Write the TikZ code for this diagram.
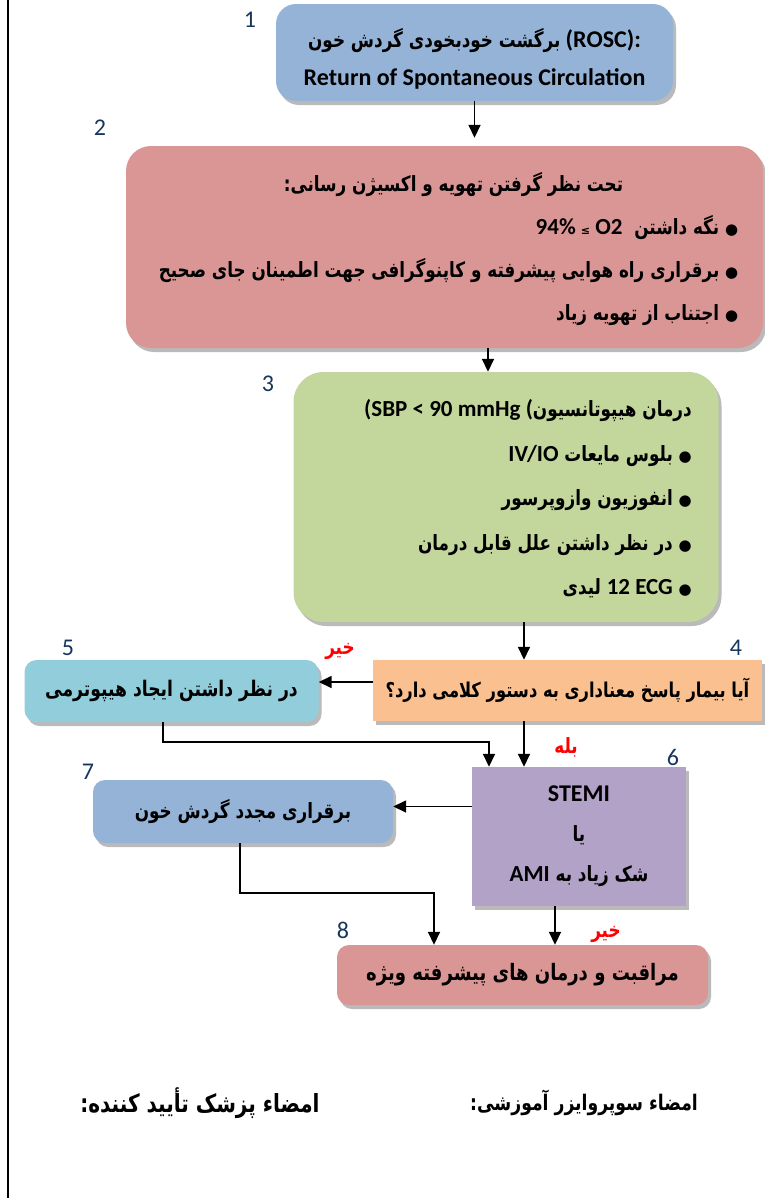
\documentclass[tikz,border=0pt]{standalone}
\usepackage{fontspec}
\setmainfont{Carlito}
\newfontfamily\en{Carlito}
\newfontfamily\sym{DejaVu Sans}
\newfontfamily\fa[Script=Arabic, FakeStretch=0.8]{DejaVu Sans}
\TeXXeTstate=1
\usetikzlibrary{positioning}
\usetikzlibrary{arrows.meta}
\usetikzlibrary{shadows}
\definecolor{blue1}{RGB}{149,179,215}
\definecolor{rose1}{RGB}{217,150,148}
\definecolor{green1}{RGB}{195,214,155}
\definecolor{orange1}{RGB}{250,192,144}
\definecolor{cyan1}{RGB}{146,205,220}
\definecolor{purple1}{RGB}{178,162,199}
\definecolor{num1}{RGB}{23,54,93}
\definecolor{red2}{RGB}{255,0,0}
\newcommand{\fatext}[1]{{\fa\beginR #1\endR}}
\newcommand{\lat}[1]{\beginL{\en\fontsize{23}{23}\selectfont #1}\endL}
\newcommand{\blt}{{\sym\fontsize{15}{15}\selectfont ●}\ }
\tikzset{
box/.style 2 args={
	fill=#1, rounded corners=#2, inner sep=0pt,
	drop shadow={shadow xshift=3pt, shadow yshift=-4pt, fill=black!45, opacity=0.6}
},
num/.style={num1, font=\fontsize{24}{24}\selectfont, inner sep=0pt},
answer/.style={red2, font=\fa\bfseries\fontsize{21}{21}\selectfont, inner sep=0pt},
link/.style={line width=1.6pt, -{Triangle[length=13pt,width=12pt]}},
}

\begin{document}
\begin{tikzpicture}[x=1pt, y=-1pt]
\useasboundingbox (0,0) rectangle (764,1200);
\draw[line width=1.3pt] (8,0) -- (8,1198);

%Place the boxes
\node[box={blue1}{20pt}, minimum width=397pt, minimum height=97pt,
	font=\bfseries\fontsize{24}{38}\selectfont] (rosc) at (474.5,52.5) {%
	\raisebox{-6pt}[\height][\depth]{\begin{tabular}{@{}c@{}}
	\beginL\fatext{\fontsize{21}{21}\selectfont برگشت خودبخودی گردش خون}\ (ROSC):\endL\\
	Return of Spontaneous Circulation
	\end{tabular}}};
\node[box={rose1}{25pt}, minimum width=637pt, minimum height=202pt,
	font=\bfseries\fa\fontsize{21}{43}\selectfont] (vent) at (444.5,247) {%
	\begin{tabular}{@{\hspace{8pt}}r@{}}
	\multicolumn{1}{@{\hspace{18pt}}c@{}}{\fatext{تحت نظر گرفتن تهویه و اکسیژن رسانی:}}\\
	\fatext{\blt نگه داشتن\ \ \lat{94\% {\sym\fontsize{11}{11}\selectfont ≤} O2}}\\
	\fatext{\blt برقراری راه هوایی پیشرفته و کاپنوگرافی جهت اطمینان جای صحیح}\\
	\fatext{\blt اجتناب از تهویه زیاد}
	\end{tabular}};
\node[box={green1}{30pt}, minimum width=425pt, minimum height=250pt,
	font=\bfseries\fa\fontsize{21}{44.5}\selectfont] (hypot) at (506,497) {%
	\begin{tabular}{@{\hspace{44pt}}r@{}}
	\fatext{درمان هیپوتانسیون\lat{(SBP < 90 mmHg (}}\\
	\fatext{\blt بلوس مایعات \lat{IV/IO}}\\
	\fatext{\blt انفوزیون وازوپرسور}\\
	\fatext{\blt در نظر داشتن علل قابل درمان}\\
	\fatext{\blt \lat{12 ECG}\ لیدی}
	\end{tabular}};
\node[box={orange1}{0pt}, minimum width=389pt, minimum height=61pt,
	font=\bfseries\fontsize{20.4}{20.4}\selectfont] (verbal) at (567.5,690.5)
	{\fatext{آیا بیمار پاسخ معناداری به دستور کلامی دارد؟}};
\node[box={cyan1}{12pt}, minimum width=294pt, minimum height=62pt,
	font=\bfseries\fontsize{21.5}{21.5}\selectfont] (cool) at (171.5,691)
	{\fatext{در نظر داشتن ایجاد هیپوترمی}};
\node[box={purple1}{0pt}, minimum width=214pt, minimum height=139pt, align=center,
	font=\bfseries\fontsize{24}{40}\selectfont] (stemi) at (579,836.5)
	{STEMI\\\fatext{\fontsize{21}{21}\selectfont یا}\\\fatext{\fontsize{21}{21}\selectfont شک زیاد به\ \lat{AMI}}};
\node[box={blue1}{12pt}, minimum width=300pt, minimum height=63pt,
	font=\bfseries\fontsize{21}{21}\selectfont] (reperf) at (243,811.5)
	{\fatext{برقراری مجدد گردش خون}};
\node[box={rose1}{12pt}, minimum width=371pt, minimum height=60pt,
	font=\bfseries\fontsize{22.6}{22.6}\selectfont] (care) at (522.5,975)
	{\fatext{مراقبت و درمان های پیشرفته ویژه}};

%Step numbers
\node[num] (n1) at (250,20) {1};
\node[num] (n2) at (100,128) {2};
\node[num] (n3) at (268,384) {3};
\node[num] (n4) at (736,648) {4};
\node[num] (n5) at (68,648) {5};
\node[num] (n6) at (673,757) {6};
\node[num] (n7) at (88,772) {7};
\node[num] (n8) at (343,930) {8};

%Answers
\node[answer] (no1) at (340,651) {\fatext{خیر}};
\node[answer] (yes1) at (566,747) {\fatext{بله}};
\node[answer] (no2) at (606,934) {\fatext{خیر}};

%Helper points for the side arrows
\coordinate (vw) at ([yshift=8.5pt]verbal.west);
\coordinate (sw) at ([yshift=30pt]stemi.west);

%
\draw[link, shorten >=8pt] (rosc.south) -- (rosc.south |- vent.north);
\draw[link] ([xshift=43.5pt]vent.south) -- ([xshift=-18pt]hypot.north);
\draw[link] ([xshift=18pt]hypot.south) -- ([xshift=-43.5pt]verbal.north);
\draw[link] (vw) -- (cool.east |- vw);
\draw[link] ([xshift=-43.5pt]verbal.south) -- ([xshift=-55pt]stemi.north);
\draw[link] ([xshift=-8.5pt]cool.south) -- ++(0,20) -| ([xshift=-90pt]stemi.north);

%
\draw[link] (sw) -- (reperf.east |- sw);
\draw[link] ([xshift=-24pt]stemi.south) -- ([xshift=32.5pt]care.north);
\draw[link] ([xshift=-3pt]reperf.south) -- ++(0,50) -| ([xshift=-88.5pt]care.north);

%Signatures
\node[font=\fa\bfseries\fontsize{21.5}{21.5}\selectfont, inner sep=0pt] (sup) at (584,1103)
	{\fatext{امضاء سوپروایزر آموزشی:}};
\node[font=\fa\bfseries\fontsize{25}{25}\selectfont, inner sep=0pt] (doc) at (200,1103)
	{\fatext{امضاء پزشک تأیید کننده:}};
\end{tikzpicture}
\end{document}
